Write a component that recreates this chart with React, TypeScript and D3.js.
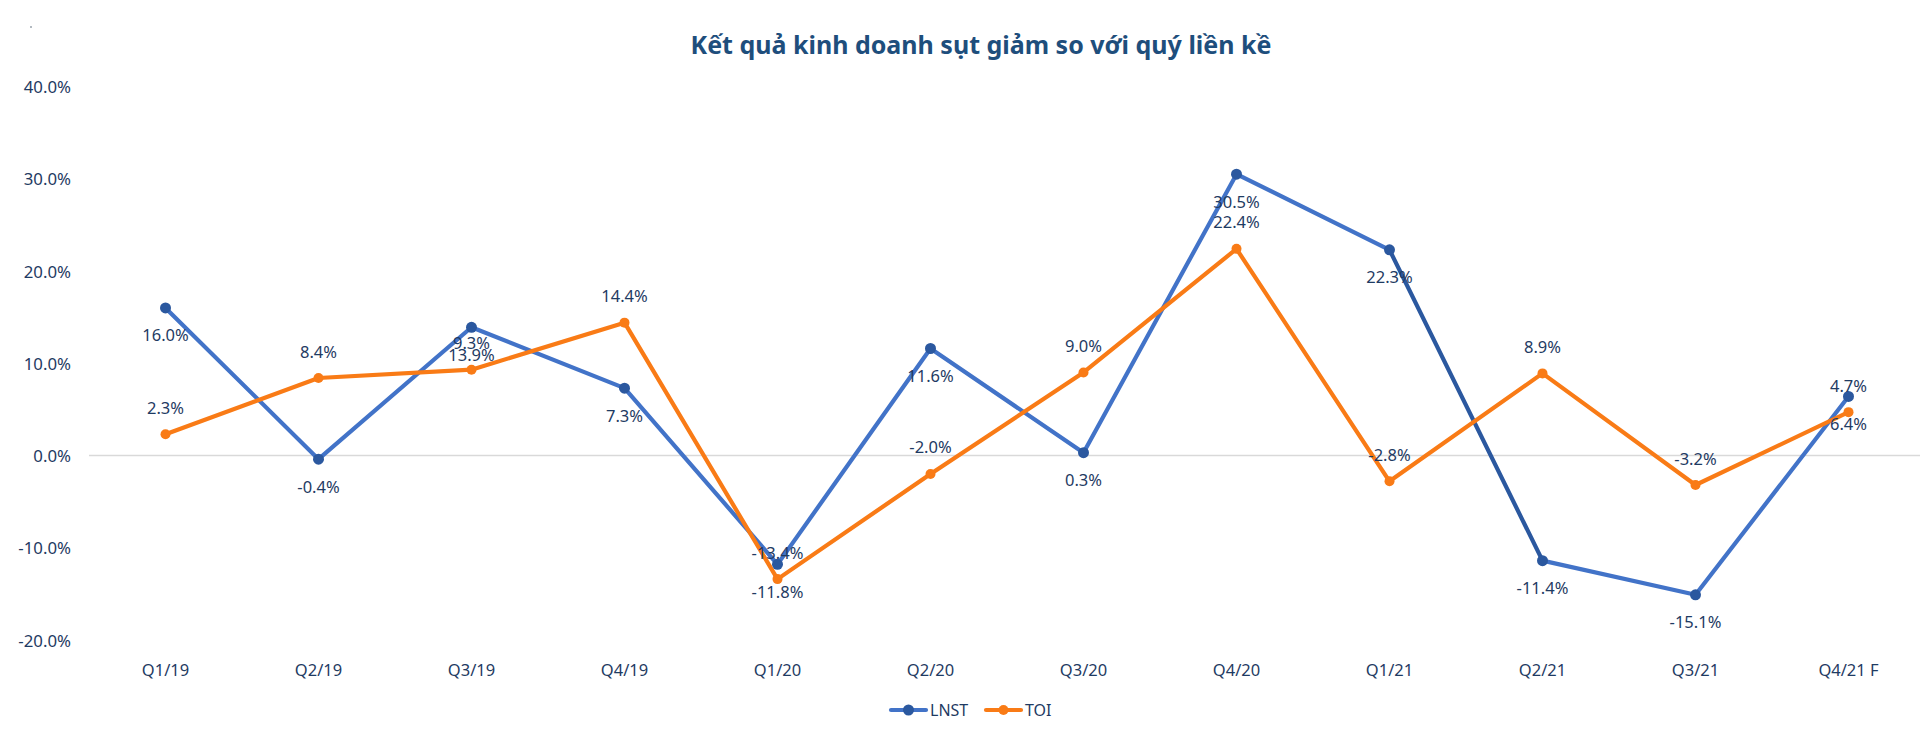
import React from "react";
import * as d3 from "d3";

const categories = ["Q1/19", "Q2/19", "Q3/19", "Q4/19", "Q1/20", "Q2/20", "Q3/20", "Q4/20", "Q1/21", "Q2/21", "Q3/21", "Q4/21 F"];
const lnst = [16.0, -0.4, 13.9, 7.3, -11.8, 11.6, 0.3, 30.5, 22.3, -11.4, -15.1, 6.4];
const toi = [2.3, 8.4, 9.3, 14.4, -13.4, -2.0, 9.0, 22.4, -2.8, 8.9, -3.2, 4.7];
const yTicks = [40, 30, 20, 10, 0, -10, -20];
const title = "Kết quả kinh doanh sụt giảm so với quý liền kề";
const seriesNames = ["LNST", "TOI"];

const W = 1920;
const H = 735;
const FONT = "'Noto Sans', 'Open Sans', sans-serif";
const TEXT = "#1F3B63";
const BLUE = "#4273C8";
const BLUE_DARK = "#2B589F";
const ORANGE = "#F97B16";

type Pt = { c: string; v: number };

export default function App() {
  const x = d3.scaleBand<string>().domain(categories).range([89, 1925]);
  const y = d3.scaleLinear().domain([-20, 40]).range([640, 86.5]);
  const cx = (c: string) => (x(c) as number) + x.bandwidth() / 2;
  const line = d3
    .line<Pt>()
    .x((d) => cx(d.c))
    .y((d) => y(d.v));
  const fmt = (v: number) => v.toFixed(1) + "%";

  const lnstPts: Pt[] = lnst.map((v, i) => ({ c: categories[i], v }));
  const toiPts: Pt[] = toi.map((v, i) => ({ c: categories[i], v }));

  const lnstSegs = lnstPts.slice(1).map((p, i) => ({
    d: line([lnstPts[i], p]) as string,
    dark: i === 8,
  }));

  return (
    <svg
      width={W}
      height={H}
      style={{ position: "absolute", left: 0, top: 0, background: "#fff" }}
      fontFamily={FONT}
    >
      <circle cx={31} cy={27} r={1} fill="#9aa3ad" />
      <text x={981} y={44} textAnchor="middle" dominantBaseline="central" fontSize={25} fontWeight="bold" fill="#1E4E7C">
        {title}
      </text>
      {yTicks.map((t) => (
        <text key={t} x={71} y={y(t)} textAnchor="end" dominantBaseline="central" fontSize={16.8} fill={TEXT}>
          {fmt(t)}
        </text>
      ))}
      <line x1={89} x2={1925} y1={y(0)} y2={y(0)} stroke="#D9D9D9" strokeWidth={1.5} />
      {categories.map((c) => (
        <text key={c} x={cx(c)} y={669} textAnchor="middle" dominantBaseline="central" fontSize={16.5} fill={TEXT}>
          {c}
        </text>
      ))}
      {lnstSegs.map((s, i) => (
        <path key={"l" + i} d={s.d} fill="none" stroke={s.dark ? BLUE_DARK : BLUE} strokeWidth={4.2} strokeLinecap="round" />
      ))}
      <path d={line(toiPts) as string} fill="none" stroke={ORANGE} strokeWidth={4.2} strokeLinejoin="round" />
      {lnstPts.map((p, i) => (
        <circle key={"lc" + i} cx={cx(p.c)} cy={y(p.v)} r={5.5} fill={BLUE_DARK} />
      ))}
      {toiPts.map((p, i) => (
        <circle key={"tc" + i} cx={cx(p.c)} cy={y(p.v)} r={5} fill={ORANGE} />
      ))}
      {lnstPts.map((p, i) => (
        <text key={"lt" + i} x={cx(p.c)} y={y(p.v) + 27} textAnchor="middle" dominantBaseline="central" fontSize={16.5} fill={TEXT}>
          {fmt(p.v)}
        </text>
      ))}
      {toiPts.map((p, i) => (
        <text key={"tt" + i} x={cx(p.c)} y={y(p.v) - 27} textAnchor="middle" dominantBaseline="central" fontSize={16.5} fill={TEXT}>
          {fmt(p.v)}
        </text>
      ))}
      <g>
        <line x1={891} x2={926} y1={710} y2={710} stroke={BLUE} strokeWidth={4.2} strokeLinecap="round" />
        <circle cx={908.5} cy={710} r={5.5} fill={BLUE_DARK} />
        <text x={930} y={710} dominantBaseline="central" fontSize={16} fill={TEXT}>
          {seriesNames[0]}
        </text>
        <line x1={986} x2={1021} y1={710} y2={710} stroke={ORANGE} strokeWidth={4.2} strokeLinecap="round" />
        <circle cx={1003.5} cy={710} r={5} fill={ORANGE} />
        <text x={1025} y={710} dominantBaseline="central" fontSize={16} fill={TEXT}>
          {seriesNames[1]}
        </text>
      </g>
    </svg>
  );
}
